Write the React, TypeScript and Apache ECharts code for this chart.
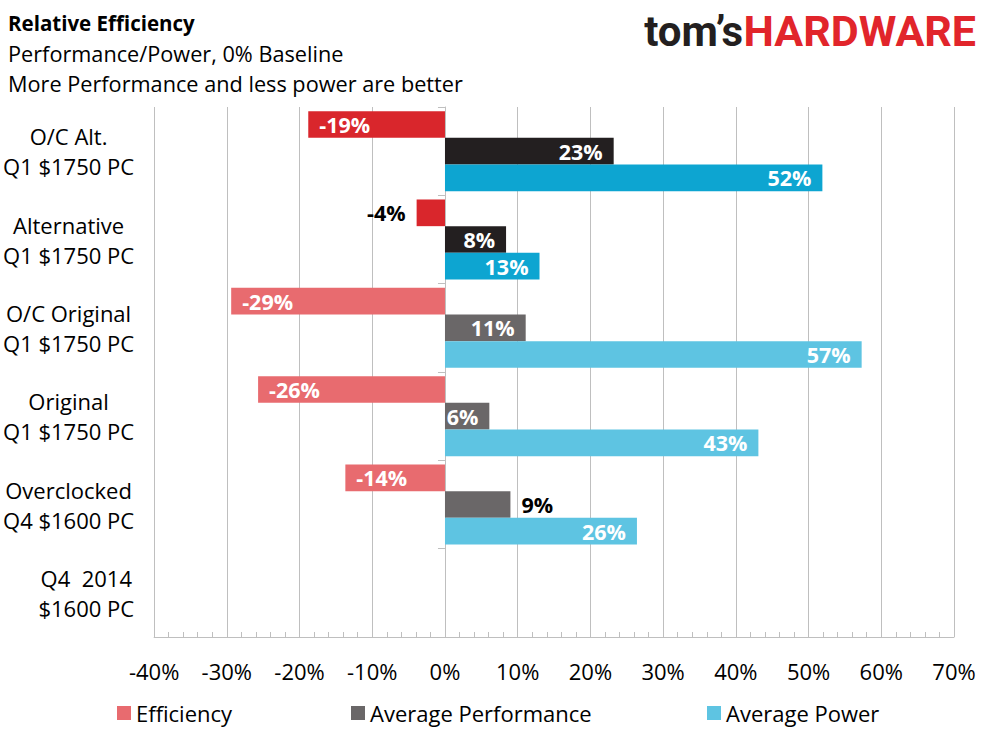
import React, { useEffect, useRef } from 'react';
import * as echarts from 'echarts';

const FONT = 'Open Sans';

// categories top to bottom, as they appear in the chart
const categories = [
  'O/C Alt.\nQ1 $1750 PC',
  'Alternative\nQ1 $1750 PC',
  'O/C Original\nQ1 $1750 PC',
  'Original\nQ1 $1750 PC',
  'Overclocked\nQ4 $1600 PC',
  'Q4  2014\n$1600 PC',
];
const seriesNames = ['Efficiency', 'Average Performance', 'Average Power'];
const efficiency = [-18.8, -3.9, -29.4, -25.7, -13.7, null];
const avgPerformance = [23.2, 8.4, 11.1, 6.1, 9.0, null];
const avgPower = [51.9, 13.0, 57.3, 43.1, 26.4, null];

const xMin = -40;
const xMax = 70;
const xStep = 10;

// rows drawn in the darker shade
const highlightRows = [0, 1];
// labels that Excel pushed outside the bar
const outsideEfficiency = [1];
const outsidePerformance = [4];

const darkColors = ['#d9262c', '#231f20', '#0da5d1'];
const lightColors = ['#e86b6f', '#6a6768', '#5ec4e2'];
const gridColor = '#bfbfbf';

const buildData = (values: (number | null)[], idx: number, outside: number[]) =>
  values.map((v, i) => {
    if (v == null) return '-';
    const item: any = {
      value: v,
      itemStyle: { color: highlightRows.includes(i) ? darkColors[idx] : lightColors[idx] },
    };
    if (outside.includes(i)) {
      item.label = { position: v < 0 ? 'left' : 'right', color: '#000' };
    }
    return item;
  });

const barLabel = (position: string) => ({
  show: true,
  position,
  distance: 11,
  color: '#fff',
  fontFamily: FONT,
  fontWeight: 'bold',
  fontSize: 21.5,
  formatter: (p: any) => Math.round(p.value) + '%',
});

const App: React.FC = () => {
  const chartRef = useRef<HTMLDivElement>(null);

  useEffect(() => {
    if (!chartRef.current) return;
    const chart = echarts.init(chartRef.current, undefined, { renderer: 'svg' });

    const legendLeft = [117, 351, 707];

    chart.setOption({
      animation: false,
      backgroundColor: '#fff',
      grid: { left: 152, right: 35, top: 107, bottom: 104 },
      xAxis: {
        type: 'value',
        min: xMin,
        max: xMax,
        interval: xStep,
        axisLine: { show: true, lineStyle: { color: gridColor } },
        axisTick: { show: true, inside: true, length: 5, lineStyle: { color: gridColor } },
        minorTick: { show: true, splitNumber: 5, length: 5, lineStyle: { color: gridColor } },
        splitLine: { show: true, lineStyle: { color: gridColor, width: 1 } },
        axisLabel: {
          formatter: '{value}%',
          color: '#000',
          fontFamily: FONT,
          fontSize: 22,
          margin: 23,
        },
      },
      yAxis: [
        {
          type: 'category',
          inverse: true,
          position: 'left',
          data: categories,
          axisLine: { show: false, onZero: false },
          axisTick: { show: false },
          axisLabel: {
            margin: 20,
            align: 'right',
            formatter: (v: string) =>
              v
                .split('\n')
                .map((l) => `{c|${l}}`)
                .join('\n'),
            rich: {
              c: {
                align: 'center',
                fontFamily: FONT,
                fontSize: 22,
                lineHeight: 30,
                color: '#000',
              },
            },
          },
        },
        {
          type: 'category',
          inverse: true,
          position: 'left',
          data: categories,
          axisLine: { show: true, onZero: true, lineStyle: { color: gridColor } },
          axisTick: { show: true, length: 7, lineStyle: { color: gridColor } },
          axisLabel: { show: false },
        },
      ],
      legend: seriesNames.map((name, i) => ({
        data: [name],
        left: legendLeft[i],
        top: 702,
        padding: 0,
        icon: 'rect',
        itemWidth: 14,
        itemHeight: 14,
        selectedMode: false,
        textStyle: { color: '#000', fontFamily: FONT, fontSize: 22 },
      })),
      series: [
        {
          name: seriesNames[0],
          type: 'bar',
          yAxisIndex: 0,
          barGap: '0%',
          barCategoryGap: '9.4%',
          itemStyle: { color: lightColors[0] },
          label: barLabel('insideLeft'),
          data: buildData(efficiency, 0, outsideEfficiency),
        },
        {
          name: seriesNames[1],
          type: 'bar',
          yAxisIndex: 0,
          barGap: '0%',
          barCategoryGap: '9.4%',
          itemStyle: { color: lightColors[1] },
          label: barLabel('insideRight'),
          data: buildData(avgPerformance, 1, outsidePerformance),
        },
        {
          name: seriesNames[2],
          type: 'bar',
          yAxisIndex: 0,
          barGap: '0%',
          barCategoryGap: '9.4%',
          itemStyle: { color: lightColors[2] },
          label: barLabel('insideRight'),
          data: buildData(avgPower, 2, []),
        },
      ],
      graphic: [
        {
          type: 'text',
          x: 8,
          y: 23,
          style: {
            text: 'Relative Efficiency',
            fill: '#000',
            font: `bold 20.5px ${FONT}`,
            verticalAlign: 'middle',
          },
        },
        {
          type: 'text',
          x: 8,
          y: 53,
          style: {
            text: 'Performance/Power, 0% Baseline',
            fill: '#000',
            font: `21.7px ${FONT}`,
            verticalAlign: 'middle',
          },
        },
        {
          type: 'text',
          x: 8,
          y: 83,
          style: {
            text: 'More Performance and less power are better',
            fill: '#000',
            font: `21.7px ${FONT}`,
            verticalAlign: 'middle',
          },
        },
        {
          type: 'text',
          x: 743,
          y: 31,
          style: {
            text: 'tom\u2019s',
            fill: '#231f20',
            font: 'bold 42px Roboto',
            align: 'right',
            verticalAlign: 'middle',
          },
        },
        {
          type: 'text',
          x: 976,
          y: 31,
          style: {
            text: 'HARDWARE',
            fill: '#e1252b',
            font: 'bold 43px Roboto',
            align: 'right',
            verticalAlign: 'middle',
          },
        },
      ],
    });

    return () => chart.dispose();
  }, []);

  return (
    <div
      ref={chartRef}
      style={{ position: 'absolute', left: 0, top: 0, width: 989, height: 741 }}
    />
  );
};

export default App;
